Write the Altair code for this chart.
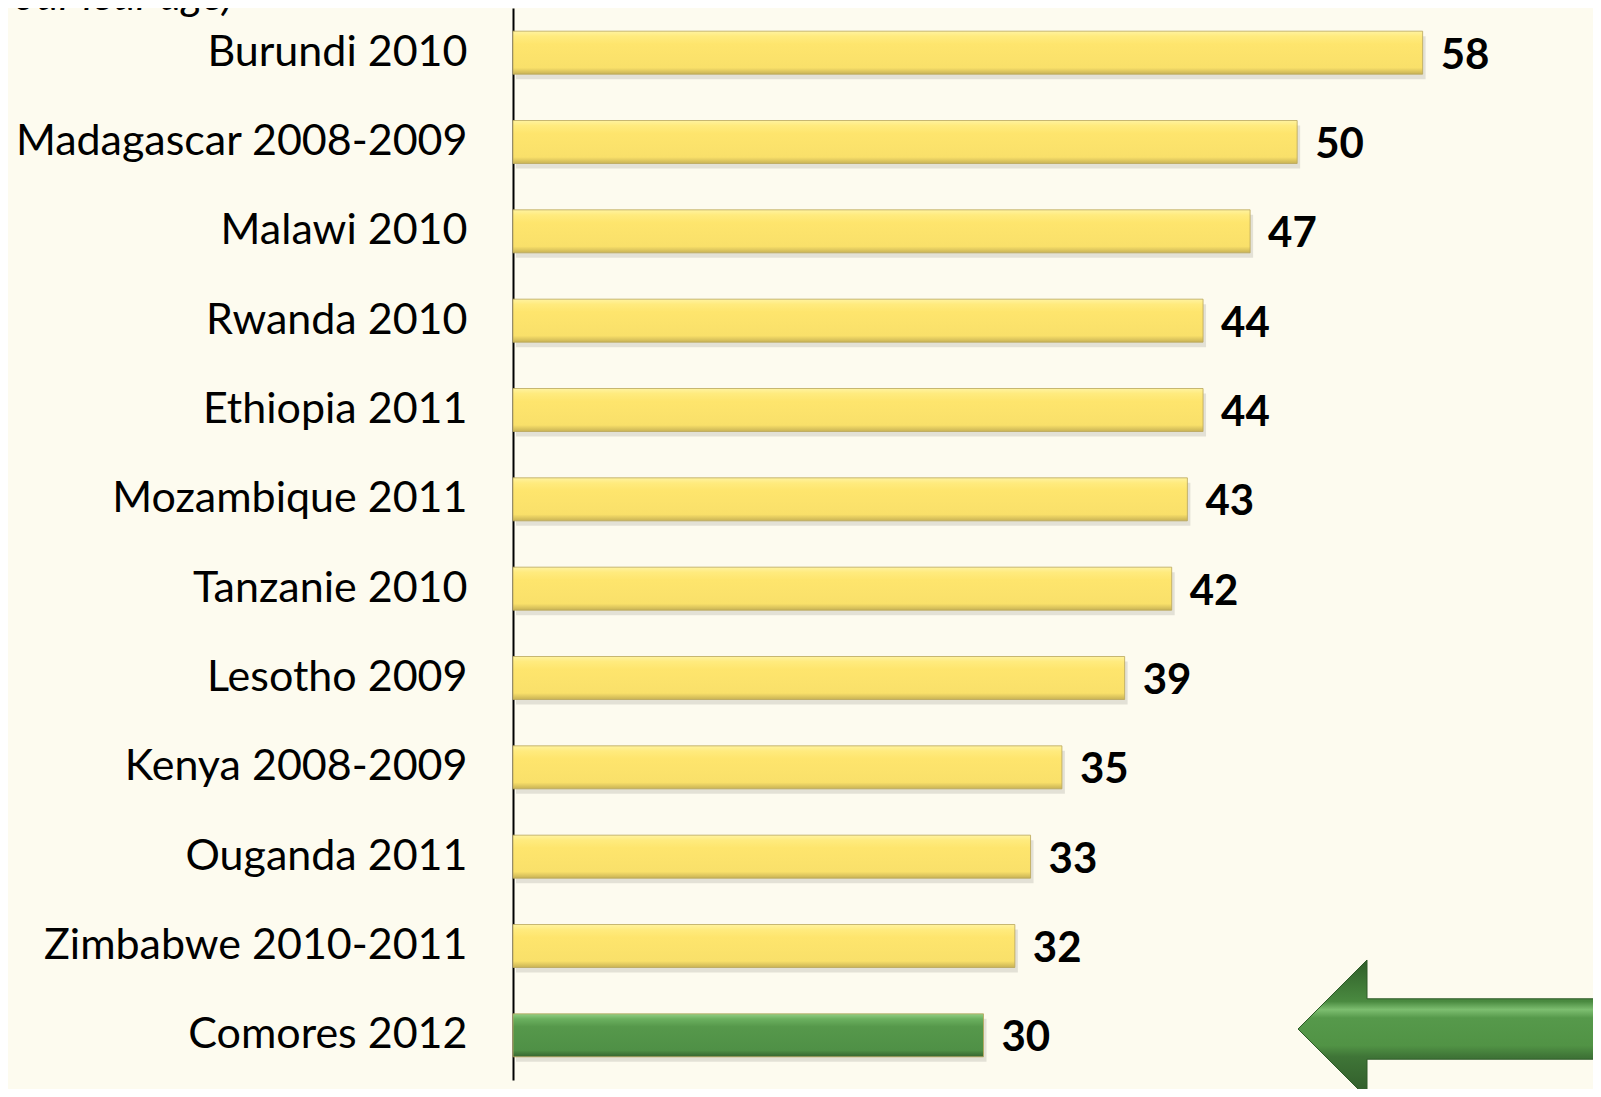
import altair as alt
import pandas as pd

countries = ["Burundi 2010", "Madagascar 2008-2009", "Malawi 2010", "Rwanda 2010",
             "Ethiopia 2011", "Mozambique 2011", "Tanzanie 2010", "Lesotho 2009",
             "Kenya 2008-2009", "Ouganda 2011", "Zimbabwe 2010-2011", "Comores 2012"]
values = [58, 50, 47, 44, 44, 43, 42, 39, 35, 33, 32, 30]
highlight = "Comores 2012"
subtitle_tail = "(pourcentage d'enfants trop petits pour leur âge)"

df = pd.DataFrame({"country": countries, "value": values})
df["hl"] = df["country"] == highlight

BG = "#FDFBEF"
FONT = "Lato"

yellow = {"gradient": "linear", "x1": 0, "y1": 0, "x2": 0, "y2": 1,
          "stops": [{"offset": 0, "color": "#FFF3A0"}, {"offset": 0.12, "color": "#FFEB7E"},
                    {"offset": 0.3, "color": "#FEE56D"}, {"offset": 0.85, "color": "#F9E06A"},
                    {"offset": 1, "color": "#C8B255"}]}
green = {"gradient": "linear", "x1": 0, "y1": 0, "x2": 0, "y2": 1,
         "stops": [{"offset": 0, "color": "#93CF85"}, {"offset": 0.12, "color": "#6BB05F"},
                   {"offset": 0.3, "color": "#56984B"}, {"offset": 0.85, "color": "#4F9046"},
                   {"offset": 1, "color": "#37652F"}]}
arrow_fill = {"gradient": "linear", "x1": 0, "y1": 0, "x2": 0, "y2": 1,
              "stops": [{"offset": 0, "color": "#2F5E29"}, {"offset": 0.3, "color": "#4A8A40"},
                        {"offset": 0.36, "color": "#7DBE70"}, {"offset": 0.42, "color": "#56994B"},
                        {"offset": 0.62, "color": "#519345"}, {"offset": 0.7, "color": "#3F7537"},
                        {"offset": 1, "color": "#2F5A29"}]}

W, H = 941, 1072
ysc = alt.Scale(domain=countries, paddingInner=0.52, paddingOuter=0.26)
xsc = alt.Scale(domain=[0, 60], nice=False)

base = alt.Chart(df)

shadow = base.mark_bar(size=43, color="#000000", opacity=0.10, yOffset=5, xOffset=3).encode(
    x=alt.X("value:Q", scale=xsc, axis=None),
    y=alt.Y("country:N", scale=ysc, sort=countries),
)

bars = base.mark_bar(size=43, stroke="#B9A65A", strokeWidth=0.8).encode(
    x=alt.X("value:Q", scale=xsc, axis=None),
    y=alt.Y("country:N", scale=ysc, sort=countries,
            axis=alt.Axis(title=None, ticks=False, domain=True, domainColor="#000000",
                          domainWidth=2, labelFont=FONT, labelFontSize=43,
                          labelColor="#000000", labelPadding=46, labelLimit=700,
                          grid=False)),
    fill=alt.condition(alt.datum.hl, alt.value(green), alt.value(yellow)),
)

labels = base.mark_text(align="left", baseline="middle", dx=18, dy=3, font=FONT,
                        fontSize=42, fontWeight="bold", color="#000000").encode(
    x=alt.X("value:Q", scale=xsc),
    y=alt.Y("country:N", scale=ysc, sort=countries),
    text="value:Q",
)

arrow_path = "M -1 0 L -0.543 -0.457 L -0.543 -0.2 L 1 -0.2 L 1 0.2 L -0.543 0.2 L -0.543 0.457 Z"
arrow = alt.Chart(pd.DataFrame({"a": [highlight]})).mark_point(
    shape=arrow_path, filled=True, fill=arrow_fill, stroke="#2E5A28", strokeWidth=1,
    opacity=1, size=302 * 302).encode(
    x=alt.value(936), y=alt.value(1021))

note = alt.Chart(pd.DataFrame({"t": [subtitle_tail]})).mark_text(
    align="right", baseline="alphabetic", font=FONT, fontSize=43, fontStyle="italic",
    color="#000000").encode(x=alt.value(-280), y=alt.value(2), text="t:N")

chart = alt.layer(shadow, bars, labels, arrow, note).properties(
    width=W, height=H,
    autosize=alt.AutoSizeParams(type="none"),
    padding={"left": 505, "top": 0, "right": 139, "bottom": 9},
    background=BG,
).configure_view(stroke=None)

chart.save("out.html", embed_options={"renderer": "svg", "actions": False})
